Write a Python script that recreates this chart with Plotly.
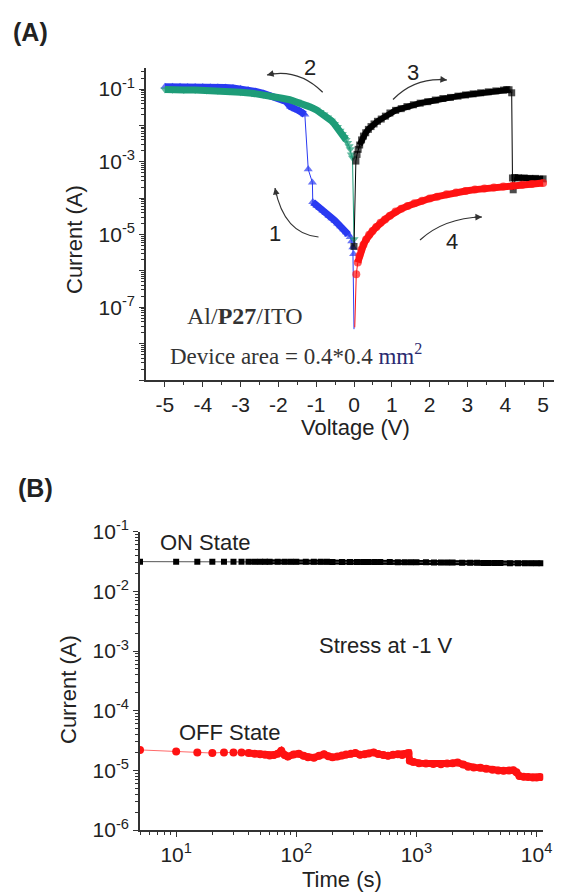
import plotly.graph_objects as go

# the page places the figure 8 px from the top-left corner; the figure covers the rest
OFF = 8
W, H = 562 - OFF, 892 - OFF

# ---------------- Panel A data (I-V sweeps) ----------------
v_sweep1 = [0.0, -0.01, -0.03, -0.06, -0.1, -0.15, -0.2, -0.27, -0.35, -0.43, -0.5, -0.58, -0.66,
            -0.74, -0.82, -0.9, -0.98, -1.04, -1.09, -1.10, -1.21, -1.30, -1.34, -1.4, -1.47, -1.54,
            -1.61, -1.68, -1.8, -2.0, -2.2, -2.4, -2.6, -2.8, -3.0, -3.2, -3.4, -3.6, -3.8, -4.0,
            -4.2, -4.4, -4.6, -4.8, -5.0]
i_sweep1 = [2.5e-8, 2.9e-6, 4.5e-6, 6.5e-6, 8.5e-6, 1.0e-5, 1.15e-5, 1.4e-5, 1.7e-5, 2.0e-5, 2.4e-5,
            2.8e-5, 3.3e-5, 3.9e-5, 4.6e-5, 5.4e-5, 6.2e-5, 7.0e-5, 7.8e-5, 2.7e-4, 6.2e-4, 2.0e-2,
            2.2e-2, 2.4e-2, 2.6e-2, 2.8e-2, 3.0e-2, 3.3e-2, 4.6e-2, 5.6e-2, 6.5e-2, 7.6e-2, 8.6e-2,
            9.5e-2, 0.102, 0.107, 0.110, 0.112, 0.113, 0.114, 0.115, 0.115, 0.116, 0.116, 0.116]

v_sweep2 = [0.0, -0.04, -0.07, -0.1, -0.13, -0.17, -0.21, -0.26, -0.31, -0.37, -0.44, -0.52, -0.6,
            -0.7, -0.8, -0.9, -1.0, -1.15, -1.3, -1.5, -1.7, -1.9, -2.1, -2.4, -2.7, -3.0, -3.3,
            -3.6, -3.9, -4.2, -4.5, -4.8, -5.0]
i_sweep2 = [7.4e-6, 1.3e-3, 1.6e-3, 2.2e-3, 2.7e-3, 3.3e-3, 4.0e-3, 4.8e-3, 5.8e-3, 7.2e-3, 9.0e-3,
            1.1e-2, 1.35e-2, 1.65e-2, 2.0e-2, 2.35e-2, 2.7e-2, 3.2e-2, 3.7e-2, 4.5e-2, 5.1e-2, 5.6e-2,
            6.2e-2, 7.0e-2, 7.7e-2, 8.2e-2, 8.7e-2, 9.0e-2, 9.2e-2, 9.4e-2, 9.5e-2, 9.6e-2, 9.7e-2]

v_sweep3 = [0.0, 0.05, 0.08, 0.11, 0.15, 0.2, 0.25, 0.31, 0.38, 0.45, 0.53, 0.62, 0.72, 0.83, 0.95,
            1.1, 1.25, 1.4, 1.57, 1.75, 1.95, 2.15, 2.35, 2.55, 2.75, 2.95, 3.15, 3.35, 3.55, 3.75,
            3.95, 4.04, 4.1, 4.17, 4.19, 4.21, 4.25, 4.35, 4.5, 4.65, 4.8, 5.0]
i_sweep3 = [4.7e-6, 1.05e-3, 1.6e-3, 2.2e-3, 2.9e-3, 4.0e-3, 5.1e-3, 6.3e-3, 7.8e-3, 9.3e-3, 1.1e-2,
            1.3e-2, 1.5e-2, 1.8e-2, 2.2e-2, 2.6e-2, 2.9e-2, 3.3e-2, 3.7e-2, 4.1e-2, 4.5e-2, 5.0e-2,
            5.5e-2, 5.9e-2, 6.4e-2, 6.9e-2, 7.4e-2, 7.9e-2, 8.4e-2, 8.9e-2, 9.4e-2, 9.7e-2, 9.6e-2,
            7.9e-2, 3.6e-4, 1.7e-4, 3.7e-4, 3.6e-4, 3.6e-4, 3.5e-4, 3.5e-4, 3.4e-4]

v_sweep4 = [0.02, 0.06, 0.1, 0.14, 0.19, 0.25, 0.32, 0.4, 0.49, 0.59, 0.7, 0.82, 0.95, 1.1, 1.25,
            1.42, 1.6, 1.8, 2.0, 2.2, 2.45, 2.7, 2.95, 3.2, 3.45, 3.7, 3.95, 4.2, 4.45, 4.7, 5.0]
i_sweep4 = [2.8e-8, 8.1e-7, 1.7e-6, 2.6e-6, 3.8e-6, 5.2e-6, 7.3e-6, 9.8e-6, 1.25e-5, 1.6e-5, 2.1e-5,
            2.6e-5, 3.3e-5, 4.3e-5, 5.1e-5, 6.1e-5, 7.2e-5, 8.5e-5, 9.8e-5, 1.1e-4, 1.28e-4, 1.43e-4,
            1.57e-4, 1.72e-4, 1.84e-4, 1.96e-4, 2.08e-4, 2.2e-4, 2.33e-4, 2.46e-4, 2.6e-4]

volt_ticks = [-5, -4, -3, -2, -1, 0, 1, 2, 3, 4, 5]
volt_labels = ["-5", "-4", "-3", "-2", "-1", "0", "1", "2", "3", "4", "5"]
curA_exp = [-9, -8, -7, -6, -5, -4, -3, -2, -1]
curA_labeled = [-7, -5, -3, -1]

# ---------------- Panel B data (retention) ----------------
t_on = [5, 10, 15, 20, 25, 30, 35, 40, 45, 50, 55, 60, 70, 80, 90, 100, 120, 140, 160, 180, 200,
        240, 280, 320, 360, 400, 450, 500, 600, 700, 800, 900, 1000, 1200, 1400, 1600, 1800, 2000,
        2400, 2800, 3200, 3600, 4000, 4500, 5000, 6000, 7000, 8000, 9000, 10000, 11000]
i_on = [3.15e-2, 3.15e-2, 3.15e-2, 3.15e-2, 3.15e-2, 3.15e-2, 3.15e-2, 3.15e-2, 3.15e-2, 3.15e-2,
        3.15e-2, 3.15e-2, 3.15e-2, 3.14e-2, 3.14e-2, 3.14e-2, 3.14e-2, 3.13e-2, 3.13e-2, 3.13e-2,
        3.12e-2, 3.12e-2, 3.12e-2, 3.11e-2, 3.11e-2, 3.11e-2, 3.1e-2, 3.1e-2, 3.1e-2, 3.09e-2,
        3.09e-2, 3.08e-2, 3.08e-2, 3.07e-2, 3.06e-2, 3.05e-2, 3.05e-2, 3.04e-2, 3.03e-2, 3.02e-2,
        3.01e-2, 3.0e-2, 3.0e-2, 2.99e-2, 2.98e-2, 2.97e-2, 2.96e-2, 2.96e-2, 2.95e-2, 2.95e-2,
        2.95e-2]

t_off = [5, 10, 15, 20, 25, 30, 35, 40, 45, 50, 55, 60, 65, 70, 75, 80, 85, 95, 105, 115, 125, 140,
         155, 170, 185, 200, 220, 240, 260, 285, 310, 340, 370, 400, 440, 480, 530, 580, 640, 700,
         760, 820, 860, 880, 940, 1050, 1200, 1380, 1600, 1800, 2000, 2200, 2450, 2700, 3000,
         3400, 3800, 4300, 4800, 5300, 5900, 6400, 6800, 7200, 7800, 8500, 9300, 10000, 10700]
i_off = [2.2e-5, 2.07e-5, 2.0e-5, 1.95e-5, 2.0e-5, 2.0e-5, 2.0e-5, 1.95e-5, 1.9e-5, 1.86e-5,
         1.82e-5, 1.78e-5, 1.8e-5, 1.9e-5, 2.12e-5, 1.8e-5, 1.7e-5, 1.85e-5, 1.9e-5, 1.75e-5,
         1.65e-5, 1.63e-5, 1.75e-5, 1.86e-5, 1.72e-5, 1.65e-5, 1.7e-5, 1.78e-5, 1.85e-5, 1.9e-5,
         1.95e-5, 1.82e-5, 1.86e-5, 1.92e-5, 2.0e-5, 1.88e-5, 1.8e-5, 1.75e-5, 1.82e-5, 1.86e-5,
         1.8e-5, 1.9e-5, 1.95e-5, 1.45e-5, 1.38e-5, 1.32e-5, 1.3e-5, 1.28e-5, 1.27e-5, 1.3e-5,
         1.32e-5, 1.35e-5, 1.25e-5, 1.15e-5, 1.12e-5, 1.1e-5, 1.06e-5, 1.02e-5, 9.9e-6, 9.8e-6,
         9.9e-6, 1.0e-5, 9.3e-6, 8.0e-6, 7.8e-6, 7.7e-6, 7.6e-6, 7.6e-6, 7.7e-6]

time_exp = [1, 2, 3, 4]
curB_exp = [-6, -5, -4, -3, -2, -1]

# ---------------- helpers (target-pixel -> paper) ----------------
def pxx(x):
    return (x - OFF) / W

def pyy(y):
    return 1 - (y - OFF) / H

def sub_range(xs, ys, lo, hi):
    pts = [(x, y) for x, y in zip(xs, ys) if lo <= x <= hi]
    return [p[0] for p in pts], [p[1] for p in pts]

BLUE = "#2a3af2"
GREEN = "#1e9c78"
BLACK = "#000000"
RED = "#ff1212"
AX = "#333333"
FONT = "Liberation Sans"

fig = go.Figure()

series = [
    (v_sweep1, i_sweep1, BLUE, "triangle-up", 8, [(-1.09, -0.15), (-5.0, -1.30)], True),
    (v_sweep2, i_sweep2, GREEN, "triangle-down", 8, [(-5.0, -0.2)], False),
    (v_sweep3, i_sweep3, BLACK, "square", 7, [(0.15, 4.1), (4.25, 5.0)], False),
    (v_sweep4, i_sweep4, RED, "circle", 8, [(0.1, 5.0)], True),
]
for xs, ys, col, sym, ms, bands, hide_first in series:
    for lo, hi in bands:
        bx, by = sub_range(xs, ys, lo, hi)
        fig.add_trace(go.Scatter(x=bx, y=by, mode="lines", line=dict(color=col, width=ms - 1),
                                 xaxis="x", yaxis="y", showlegend=False, hoverinfo="skip"))
    sizes = [ms] * len(xs)
    if hide_first:
        sizes[0] = 0
    fig.add_trace(go.Scatter(x=xs, y=ys, mode="lines+markers",
                             line=dict(color=col, width=1),
                             marker=dict(symbol=sym, size=sizes, color=col, line=dict(width=0)),
                             xaxis="x", yaxis="y", showlegend=False))

# Panel B
for ts, cs, col, lcol, sym, ms in [(t_on, i_on, BLACK, "#555555", "square", 6),
                                  (t_off, i_off, RED, "#ff6a6a", "circle", 8)]:
    bx, by = sub_range(ts, cs, 38, 20000)
    fig.add_trace(go.Scatter(x=bx, y=by, mode="lines", line=dict(color=col, width=ms - 1),
                             xaxis="x2", yaxis="y2", showlegend=False, hoverinfo="skip"))
    fig.add_trace(go.Scatter(x=ts, y=cs, mode="lines+markers", line=dict(color=lcol, width=1),
                             marker=dict(symbol=sym, size=ms, color=col, line=dict(width=0)),
                             xaxis="x2", yaxis="y2", showlegend=False))

# ---------------- axes ----------------
common = dict(showline=True, linecolor=AX, linewidth=1.6, mirror=False, showgrid=False,
              zeroline=False, ticks="outside", tickcolor=AX, tickwidth=1.3, ticklen=5,
              automargin=False,
              tickfont=dict(family=FONT, size=21, color="#222222"))

def log_minor(e_lo, e_hi):
    vals = []
    for e in range(e_lo, e_hi + 1):
        for m in range(2, 10):
            vals.append(m * 10.0 ** e)
    return vals

fig.update_layout(
    template="none",
    xaxis=dict(domain=[pxx(146), 1.0], anchor="y", range=[-5.5, 5.5],
               tickmode="array", tickvals=volt_ticks, ticktext=volt_labels,
               minor=dict(tickvals=[v + 0.5 for v in volt_ticks[:-1]], ticks="outside",
                          ticklen=3, tickcolor=AX, tickwidth=1.2),
               **common),
    yaxis=dict(domain=[pyy(380), pyy(68)], anchor="x", type="log", range=[-9, -0.42],
               tickmode="array", tickvals=[10.0 ** e for e in curA_exp],
               ticktext=[("10<sup>%d</sup>" % e) if e in curA_labeled else "" for e in curA_exp],
               minor=dict(tickvals=log_minor(-9, -1), ticks="outside", ticklen=3,
                          tickcolor=AX, tickwidth=1.0),
               **common),
    xaxis2=dict(domain=[pxx(140), pxx(543.3)], anchor="y2", type="log", range=[0.699, 4.056],
                tickmode="array", tickvals=[10.0 ** e for e in time_exp],
                ticktext=["10<sup>%d</sup>" % e for e in time_exp],
                minor=dict(tickvals=log_minor(0, 4), ticks="outside", ticklen=3,
                           tickcolor=AX, tickwidth=1.0),
                **common),
    yaxis2=dict(domain=[pyy(830), pyy(531.7)], anchor="x2", type="log", range=[-6, -1],
                tickmode="array", tickvals=[10.0 ** e for e in curB_exp],
                ticktext=["10<sup>%d</sup>" % e for e in curB_exp],
                minor=dict(tickvals=log_minor(-6, -2), ticks="outside", ticklen=3,
                           tickcolor=AX, tickwidth=1.0),
                **common),
    width=W, height=H, margin=dict(l=0, r=0, t=0, b=0, pad=0, autoexpand=False),
    paper_bgcolor="white", plot_bgcolor="white", showlegend=False,
)

# ---------------- text ----------------
def note(text, x, y, size=22, family=FONT, xanchor="center", angle=0, color="#222222"):
    fig.add_annotation(text=text, x=pxx(x), y=pyy(y), xref="paper", yref="paper",
                       showarrow=False, xanchor=xanchor, yanchor="middle", textangle=angle,
                       font=dict(family=family, size=size, color=color))

note("<b>(A)</b>", 30, 32, size=25)
note("<b>(B)</b>", 35, 488, size=25)
note("Current (A)", 75, 240, angle=-90)
note("Voltage (V)", 355, 427)
note("Current (A)", 68, 690, angle=-90)
note("Time (s)", 342, 879)
note("2", 310, 68)
note("3", 413, 73)
note("1", 275, 233)
note("4", 452, 242)
note("Al/<b>P27</b>/ITO", 245, 316, size=24, family="Liberation Serif", color="#333333")
note("Device area = 0.4*0.4 <span style='color:#2a2a70'>mm<sup>2</sup></span>", 168, 355,
     size=23, family="Liberation Serif", xanchor="left", color="#333333")
note("ON State", 158, 542, xanchor="left")
note("OFF State", 177, 732, xanchor="left")
note("Stress at -1 V", 317, 645, xanchor="left")

# ---------------- curved arrows ----------------
arrows = [
    ((322.7, 92.3), (298, 68), (267, 75)),
    ((393, 99.5), (415, 77), (447, 80)),
    ((318.5, 237), (284, 234), (275, 188)),
    ((420, 240), (444, 218), (482, 217)),
]
for (x0, y0), (cx, cy), (x1, y1) in arrows:
    fig.add_shape(type="path", xref="paper", yref="paper",
                  path="M %.5f,%.5f Q %.5f,%.5f %.5f,%.5f" % (pxx(x0), pyy(y0), pxx(cx), pyy(cy),
                                                            pxx(x1), pyy(y1)),
                  line=dict(color="#333333", width=1.2))
    dx, dy = cx - x1, cy - y1
    n = (dx * dx + dy * dy) ** 0.5
    fig.add_annotation(x=pxx(x1), y=pyy(y1), xref="paper", yref="paper", text="",
                       showarrow=True, ax=dx / n * 9, ay=dy / n * 9, arrowhead=2,
                       arrowsize=1.1, arrowwidth=1.2, arrowcolor="#333333")

fig.write_html("out.html")
